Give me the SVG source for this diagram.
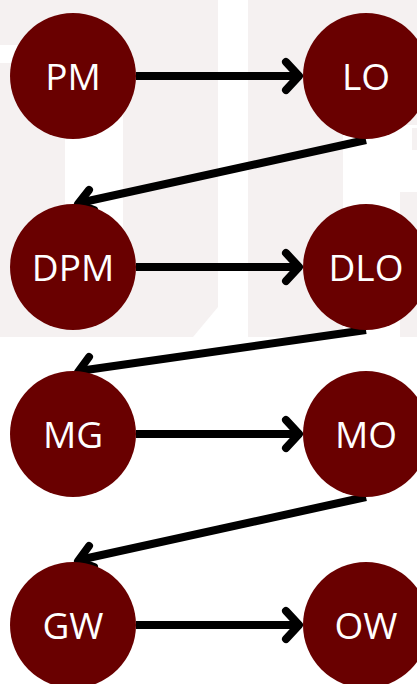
<svg xmlns="http://www.w3.org/2000/svg" width="417" height="684" viewBox="0 0 417 684">
<style>
.bg{fill:#f5f1f1}
.node{fill:#690000}
.lbl{fill:#ffffff;font-family:"Open Sans","Noto Sans",sans-serif;font-size:37px;font-weight:400;text-anchor:middle}
.edge{fill:none;stroke:#000;stroke-width:8}
.head{fill:none;stroke:#000;stroke-width:8;stroke-linecap:round;stroke-linejoin:round}
</style>
<rect width="417" height="684" fill="#ffffff"/>
<g id="background">
<path class="bg" d="M0 0H218V307L193 337H0Z"/>
<rect class="bg" x="248" y="0" width="95" height="337"/>
<rect class="bg" x="343" y="0" width="74" height="125"/>
<rect class="bg" x="400" y="192" width="17" height="145"/>
<rect class="bg" x="412" y="128" width="5" height="22"/>
<rect x="0" y="45" width="40" height="18" fill="#ffffff"/>
<rect x="65" y="110" width="58" height="150" fill="#ffffff"/>
</g>
<g id="connectors">
<path class="edge" d="M136 76H299"/>
<path class="head" d="M286 62L299 76L286 90"/>
<path class="edge" d="M366 140L79 203"/>
<path class="head" d="M89 190L78 204L94 210"/>
<path class="edge" d="M136 267H299"/>
<path class="head" d="M286 253L299 267L286 281"/>
<path class="edge" d="M366 330L79 371"/>
<path class="head" d="M89 357L78 372L94 380"/>
<path class="edge" d="M136 434H299"/>
<path class="head" d="M286 420L299 434L286 448"/>
<path class="edge" d="M366 497L79 560"/>
<path class="head" d="M89 546L78 561L94 567"/>
<path class="edge" d="M136 625H299"/>
<path class="head" d="M286 611L299 625L286 639"/>
</g>
<g id="PM"><circle class="node" cx="73" cy="76" r="63"/><text class="lbl" x="73" y="90">PM</text></g>
<g id="LO"><circle class="node" cx="366" cy="76" r="63"/><text class="lbl" x="366" y="90">LO</text></g>
<g id="DPM"><circle class="node" cx="73" cy="267" r="63"/><text class="lbl" x="73" y="281">DPM</text></g>
<g id="DLO"><circle class="node" cx="366" cy="267" r="63"/><text class="lbl" x="366" y="281">DLO</text></g>
<g id="MG"><circle class="node" cx="73" cy="434" r="63"/><text class="lbl" x="73" y="448">MG</text></g>
<g id="MO"><circle class="node" cx="366" cy="434" r="63"/><text class="lbl" x="366" y="448">MO</text></g>
<g id="GW"><circle class="node" cx="73" cy="625" r="63"/><text class="lbl" x="73" y="639">GW</text></g>
<g id="OW"><circle class="node" cx="366" cy="625" r="63"/><text class="lbl" x="366" y="639">OW</text></g>
</svg>
